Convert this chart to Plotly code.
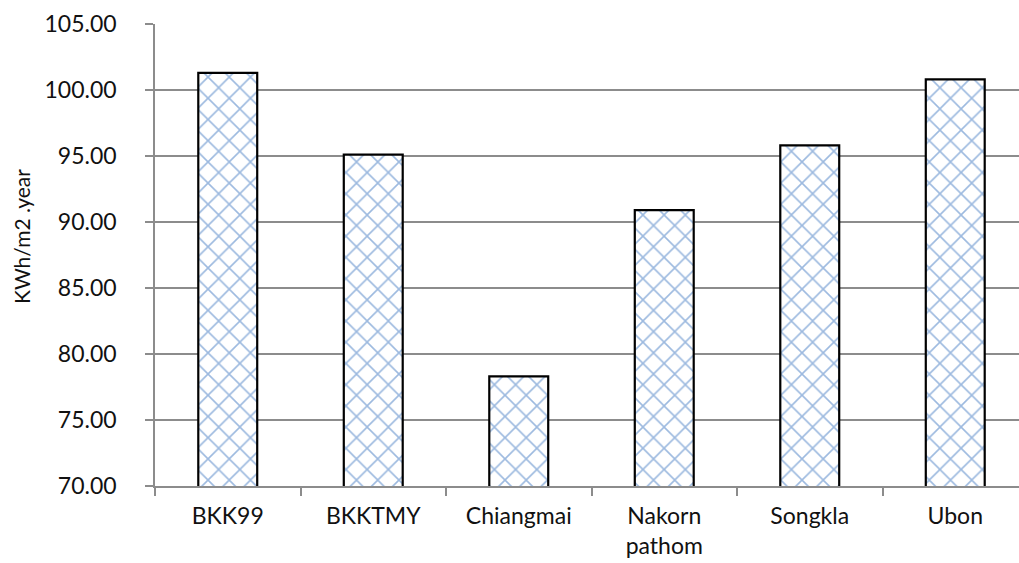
import plotly.graph_objects as go

# Annual energy use by weather file / location
locations = ["BKK99", "BKKTMY", "Chiangmai", "Nakorn<br>pathom", "Songkla", "Ubon"]
energy = [101.3, 95.1, 78.3, 90.9, 95.8, 100.8]

y_ticks = [70, 75, 80, 85, 90, 95, 100, 105]

W, H = 1019, 563
L, R, T, B = 155, 0, 24, 77
cat_px = 145.5
x_hi = (W - L - R) / cat_px - 0.5

axis_gray = "#8c8c8c"
font = dict(family="Lato, 'Open Sans', sans-serif", size=23, color="#111111")

fig = go.Figure(
    go.Bar(
        x=locations,
        y=energy,
        width=0.405,
        marker=dict(
            color="white",
            line=dict(color="black", width=2.2),
            pattern=dict(shape="x", fgcolor="#3a74bf", bgcolor="white",
                         size=15, solidity=0.2, fillmode="overlay"),
        ),
        cliponaxis=False,
    )
)

fig.update_layout(
    width=W, height=H,
    margin=dict(l=L, r=R, t=T, b=B, pad=0),
    paper_bgcolor="white", plot_bgcolor="white",
    font=font,
    showlegend=False,
)

fig.update_xaxes(
    type="category",
    range=[-0.5, x_hi],
    showline=True, linecolor=axis_gray, linewidth=1.5,
    ticks="outside", tickson="boundaries", ticklen=8, tickcolor=axis_gray, tickwidth=1.5,
    showgrid=False,
    ticklabelstandoff=9,
    tickfont=font,
)

fig.update_yaxes(
    range=[70, 105],
    tickvals=y_ticks,
    tickformat=".2f",
    showline=True, linecolor=axis_gray, linewidth=1.5,
    ticks="outside", ticklen=8, tickcolor=axis_gray, tickwidth=1.5,
    showgrid=True, gridcolor=axis_gray, gridwidth=1.5,
    zeroline=False,
    ticklabelstandoff=24,
    tickfont=font,
)

fig.add_annotation(
    text="KWh/m2 .year",
    xref="paper", yref="paper",
    x=(21 - L) / (W - L - R), y=(H - B - 237) / (H - B - T),
    xanchor="center", yanchor="middle",
    textangle=-90, showarrow=False,
    font=dict(family=font["family"], size=21, color="#111111"),
)

fig.write_html("out.html")
